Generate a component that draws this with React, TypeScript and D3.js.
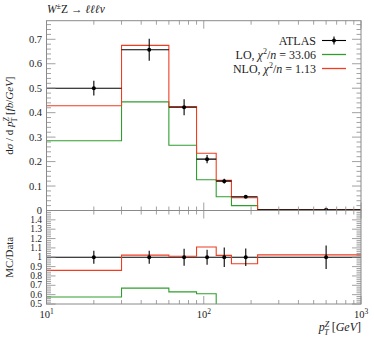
import React from "react";
import * as d3 from "d3";

const edges = [10, 30, 60, 90, 120, 150, 220, 1000];
const dataX = [20, 45, 75, 105, 135, 185, 600];
const dataY = [0.5, 0.657, 0.422, 0.21, 0.12, 0.056, 0.003];
const dataErr = [0.03, 0.045, 0.033, 0.017, 0.01, 0.005, 0.002];
const loY = [0.285, 0.444, 0.267, 0.126, 0.056, 0.02, 0.0005];
const nloY = [0.428, 0.675, 0.425, 0.234, 0.123, 0.052, 0.003];
const ratioErr = [0.07, 0.07, 0.09, 0.08, 0.105, 0.093, 0.125];
const loRatio = [0.575, 0.67, 0.63, 0.61, 0.47, 0.36, 0.17];
const nloRatio = [0.86, 1.023, 1.01, 1.11, 1.02, 0.93, 1.025];
const upperTicks = [0, 0.1, 0.2, 0.3, 0.4, 0.5, 0.6, 0.7];
const lowerTicks = [0.5, 0.6, 0.7, 0.8, 0.9, 1, 1.1, 1.2, 1.3, 1.4];
const xMajor = [10, 100, 1000];
const xLabels = ["1", "2", "3"];

const W = 374, H = 337;
const L = 46.5, R = 361;
const T = 20.7, MID = 210.5, B = 304;
const FONT = "Liberation Serif, serif";
const GREEN = "#2f9e2f";
const RED = "#f03c20";
const AX = "#8a8a8a";

export default function App() {
  const x = d3.scaleLog().domain([10, 1000]).range([L, R]);
  const yU = d3.scaleLinear().domain([0, 0.776]).range([MID, T]);
  const yL = d3.scaleLinear().domain([0.5, 1.5]).range([B, MID]);

  const stepPts = (vals: number[]) => {
    const pts: [number, number][] = [];
    vals.forEach((v, i) => {
      pts.push([edges[i], v]);
      pts.push([edges[i + 1], v]);
    });
    return pts;
  };
  const lineU = d3.line<[number, number]>().x((d) => x(d[0])).y((d) => yU(d[1]));
  const lineL = d3.line<[number, number]>().x((d) => x(d[0])).y((d) => yL(d[1]));

  const xMinor: number[] = [];
  [10, 100].forEach((dec) => {
    for (let k = 2; k <= 9; k++) xMinor.push(dec * k);
  });
  const uMinor = d3.range(0, 0.776, 0.02).filter((v) => Math.abs(Math.round(v * 10) - v * 10) > 1e-6);
  const lMinor = d3.range(0.5, 1.5001, 0.02).filter((v) => Math.abs(Math.round(v * 10) - v * 10) > 1e-6);

  const ticks: JSX.Element[] = [];
  let key = 0;
  const tk = (x1: number, y1: number, x2: number, y2: number) =>
    ticks.push(<line key={key++} x1={x1} y1={y1} x2={x2} y2={y2} stroke={AX} strokeWidth={0.8} />);

  xMajor.concat(xMinor).forEach((v) => {
    const len = xMajor.includes(v) ? 8 : 4;
    const px = x(v);
    tk(px, T, px, T + len);
    tk(px, MID, px, MID - len);
    tk(px, MID, px, MID + len);
    tk(px, B, px, B - len);
  });
  upperTicks.forEach((v) => {
    tk(L, yU(v), L + 9, yU(v));
    tk(R, yU(v), R - 9, yU(v));
  });
  uMinor.forEach((v) => {
    tk(L, yU(v), L + 4.5, yU(v));
    tk(R, yU(v), R - 4.5, yU(v));
  });
  lowerTicks.concat([1.5]).forEach((v) => {
    tk(L, yL(v), L + 9, yL(v));
    tk(R, yL(v), R - 9, yL(v));
  });
  lMinor.forEach((v) => {
    tk(L, yL(v), L + 4.5, yL(v));
    tk(R, yL(v), R - 4.5, yL(v));
  });

  return (
    <svg width={W} height={H} style={{ position: "absolute", left: 0, top: 0 }} fontFamily={FONT}>
      <defs>
        <clipPath id="cu"><rect x={L} y={T} width={R - L} height={MID - T} /></clipPath>
        <clipPath id="cl"><rect x={L} y={MID} width={R - L} height={B - MID} /></clipPath>
      </defs>
      <rect width={W} height={H} fill="#fff" />
      <text x={47} y={12.5} fontSize={11.5} fill="#222">
        <tspan fontStyle="italic">W</tspan>
        <tspan dy={-4} fontSize={8}>±</tspan>
        <tspan dy={4}>Z → </tspan>
        <tspan fontStyle="italic">ℓℓℓν</tspan>
      </text>
      <g clipPath="url(#cu)">
        <path d={lineU(stepPts(loY)) || ""} fill="none" stroke={GREEN} strokeWidth={1.1} />
        <path d={lineU(stepPts(nloY)) || ""} fill="none" stroke={RED} strokeWidth={1.1} />
        {dataX.map((dx, i) => (
          <g key={i}>
            <line x1={x(edges[i])} x2={x(edges[i + 1])} y1={yU(dataY[i])} y2={yU(dataY[i])} stroke="#000" strokeWidth={1.1} />
            <line x1={x(dx)} x2={x(dx)} y1={yU(dataY[i] - dataErr[i])} y2={yU(dataY[i] + dataErr[i])} stroke="#000" strokeWidth={1.1} />
            <circle cx={x(dx)} cy={yU(dataY[i])} r={2} fill="#000" />
          </g>
        ))}
      </g>
      <g clipPath="url(#cl)">
        <line x1={L} x2={R} y1={yL(1)} y2={yL(1)} stroke="#000" strokeWidth={1.1} />
        <path d={lineL(stepPts(loRatio)) || ""} fill="none" stroke={GREEN} strokeWidth={1.1} />
        <path d={lineL(stepPts(nloRatio)) || ""} fill="none" stroke={RED} strokeWidth={1.1} />
        {dataX.map((dx, i) => (
          <g key={i}>
            <line x1={x(dx)} x2={x(dx)} y1={yL(1 - ratioErr[i])} y2={yL(1 + ratioErr[i])} stroke="#000" strokeWidth={1.1} />
            <circle cx={x(dx)} cy={yL(1)} r={2} fill="#000" />
          </g>
        ))}
      </g>
      <rect x={L} y={T} width={R - L} height={MID - T} fill="none" stroke={AX} strokeWidth={1} />
      <rect x={L} y={MID} width={R - L} height={B - MID} fill="none" stroke={AX} strokeWidth={1} />
      {ticks}
      {upperTicks.map((v) => (
        <text key={"u" + v} x={42} y={yU(v) + 3.5} fontSize={10.5} textAnchor="end" fill="#222">
          {v === 0 ? "0" : v.toFixed(1)}
        </text>
      ))}
      {lowerTicks.map((v) => (
        <text key={"l" + v} x={42} y={yL(v) + 3} fontSize={9.5} textAnchor="end" fill="#222">
          {v === 1 ? "1" : v.toFixed(1)}
        </text>
      ))}
      {xMajor.map((v, i) => (
        <text key={"x" + v} x={x(v)} y={318} fontSize={10.5} textAnchor="middle" fill="#222">
          10<tspan dy={-4} fontSize={7.5}>{xLabels[i]}</tspan>
        </text>
      ))}
      <text x={R} y={331} fontSize={12} textAnchor="end" fill="#222">
        <tspan fontStyle="italic">p</tspan>
        <tspan dy={-4.5} fontSize={8} fontStyle="italic">Z</tspan>
        <tspan dx={-5} dy={8} fontSize={8} fontStyle="italic">T</tspan>
        <tspan dy={-3.5}> [</tspan>
        <tspan fontStyle="italic">GeV</tspan>
        <tspan>]</tspan>
      </text>
      <text transform={`translate(13,${(T + MID) / 2}) rotate(-90)`} fontSize={11} textAnchor="middle" fill="#222">
        d<tspan fontStyle="italic">σ</tspan> / d <tspan fontStyle="italic">p</tspan>
        <tspan dy={-4} fontSize={7.5} fontStyle="italic">Z</tspan>
        <tspan dx={-5} dy={7.5} fontSize={7.5}>T</tspan>
        <tspan dy={-3.5}> [</tspan>
        <tspan fontStyle="italic">fb</tspan>/<tspan fontStyle="italic">GeV</tspan>]
      </text>
      <text transform={`translate(13,${(MID + B) / 2}) rotate(-90)`} fontSize={11} textAnchor="middle" fill="#222">
        MC/Data
      </text>
      <g fontSize={12} fill="#222">
        <text x={316} y={44.5} textAnchor="end">ATLAS</text>
        <line x1={322} x2={346} y1={40.5} y2={40.5} stroke="#000" strokeWidth={1.1} />
        <line x1={334} x2={334} y1={36.5} y2={44.5} stroke="#000" strokeWidth={1.1} />
        <circle cx={334} cy={40.5} r={2} fill="#000" />
        <text x={316} y={58.5} textAnchor="end">
          LO, <tspan fontStyle="italic">χ</tspan><tspan dy={-4.5} fontSize={8}>2</tspan>
          <tspan dy={4.5}>/</tspan><tspan fontStyle="italic">n</tspan> = 33.06
        </text>
        <line x1={322} x2={346} y1={54.5} y2={54.5} stroke={GREEN} strokeWidth={1.3} />
        <text x={316} y={72.5} textAnchor="end">
          NLO, <tspan fontStyle="italic">χ</tspan><tspan dy={-4.5} fontSize={8}>2</tspan>
          <tspan dy={4.5}>/</tspan><tspan fontStyle="italic">n</tspan> = 1.13
        </text>
        <line x1={322} x2={346} y1={68.5} y2={68.5} stroke={RED} strokeWidth={1.3} />
      </g>
    </svg>
  );
}
